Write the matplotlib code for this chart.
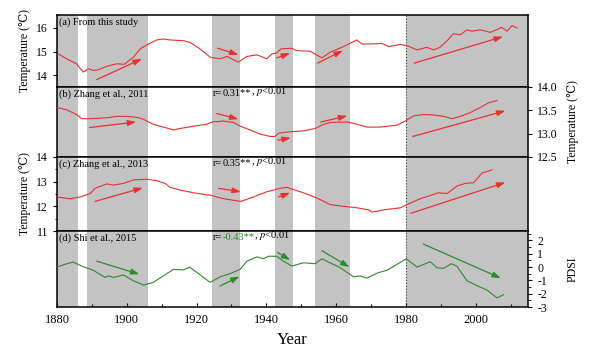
import matplotlib

matplotlib.use("Agg")
import matplotlib.pyplot as plt
from matplotlib.ticker import MultipleLocator

plt.rcParams["font.family"] = ["Liberation Serif", "DejaVu Serif"]
plt.rcParams["mathtext.fontset"] = "stix"
plt.rcParams["axes.unicode_minus"] = False

# shaded periods (years)
bands = [(1880, 1886), (1888.5, 1906), (1924.5, 1932.5), (1942.5, 1947.5),
         (1954, 1964), (1980, 2015)]

# (a) this study
a_year = [1880, 1882.8, 1885.6, 1887.5, 1889, 1890.4, 1891.7, 1894.2, 1897.1,
          1899.3, 1901.9, 1903.8, 1906.2, 1908.6, 1910.5, 1912.4, 1916.2,
          1918.1, 1921, 1923.9, 1926.7, 1928.7, 1932, 1934.4, 1937.3, 1940.1,
          1941.6, 1943, 1944.2, 1947.1, 1948.7, 1952.6, 1955.9, 1958.3,
          1962.1, 1963.6, 1965.9, 1967.4, 1970.7, 1973.1, 1975, 1978.4,
          1980.3, 1983.2, 1986, 1987.9, 1989.8, 1991.8, 1993.6, 1995.6,
          1997.5, 1998.9, 2001.3, 2004.2, 2007.5, 2009, 2010.4, 2011.8]
a_temp = [14.93, 14.69, 14.48, 14.13, 14.27, 14.2, 14.22, 14.37, 14.48,
          14.46, 14.76, 15.11, 15.32, 15.49, 15.53, 15.49, 15.46, 15.39,
          15.11, 14.76, 14.69, 14.79, 14.55, 14.79, 14.86, 14.69, 14.9,
          14.94, 15.11, 15.14, 15.04, 15.01, 14.73, 14.97, 15.21, 15.32,
          15.49, 15.32, 15.32, 15.35, 15.21, 15.3, 15.25, 15.07, 15.18,
          15.07, 15.18, 15.46, 15.75, 15.71, 15.92, 15.86, 15.92, 15.81,
          16.02, 15.86, 16.1, 16.0]

# (b) Zhang et al., 2011
b_year = [1880, 1882.8, 1885.6, 1887.1, 1890, 1894.3, 1897.1, 1900, 1902.9,
          1904.7, 1907.6, 1910.5, 1913.4, 1915.3, 1919.1, 1922.9, 1924.4,
          1927.7, 1930.6, 1932.5, 1935.3, 1938.2, 1941.1, 1942.5, 1943.5,
          1946.8, 1950.6, 1954, 1956.4, 1958.3, 1963.1, 1966, 1968.8,
          1972.6, 1977.4, 1979.8, 1982.2, 1985, 1987.9, 1990.8, 1993.2,
          1995.6, 1998.4, 2001.3, 2003.7, 2006.1]
b_temp = [13.56, 13.51, 13.41, 13.32, 13.32, 13.34, 13.37, 13.37, 13.35,
          13.31, 13.2, 13.14, 13.08, 13.11, 13.16, 13.2, 13.25, 13.27, 13.24,
          13.16, 13.08, 12.99, 12.94, 12.94, 13.01, 13.04, 13.06, 13.11, 13.2,
          13.24, 13.25, 13.2, 13.14, 13.14, 13.18, 13.27, 13.38, 13.41, 13.4,
          13.37, 13.32, 13.37, 13.45, 13.56, 13.66, 13.71]

# (c) Zhang et al., 2013
c_year = [1880, 1883.7, 1886.6, 1889.5, 1890.9, 1894.3, 1896.2, 1899, 1901.9,
          1905.7, 1908.6, 1911, 1912.4, 1915.3, 1919.1, 1923.9, 1927.7,
          1932.7, 1936.3, 1940.1, 1944, 1945.9, 1950.6, 1954.5, 1958.3,
          1962.1, 1966, 1969.3, 1970.3, 1973.6, 1978.4, 1980.3, 1984.1,
          1987.9, 1989.3, 1991.8, 1994.6, 1997, 1999.4, 2001.8, 2004.7]
c_temp = [12.38, 12.31, 12.38, 12.52, 12.73, 12.91, 12.86, 12.93, 13.07,
          13.1, 13.04, 12.93, 12.77, 12.66, 12.55, 12.45, 12.31, 12.2, 12.38,
          12.59, 12.73, 12.77, 12.55, 12.34, 12.07, 12.0, 11.94, 11.86,
          11.76, 11.86, 11.94, 12.07, 12.31, 12.48, 12.55, 12.52, 12.82,
          12.93, 12.96, 13.35, 13.48]

# (d) Shi et al., 2015 (PDSI)
d_year = [1880, 1882.8, 1884.7, 1887.1, 1890.4, 1893.8, 1894.7, 1896.2, 1899,
          1901.9, 1904.8, 1907.6, 1910.5, 1913.4, 1916.2, 1918, 1920.1,
          1923.9, 1926.7, 1929.6, 1932.5, 1934.4, 1937.3, 1939.2, 1940.6,
          1943, 1944.9, 1947.3, 1950.6, 1954, 1955.9, 1957.3, 1961.2, 1965,
          1966.9, 1968.8, 1972.1, 1974.6, 1980.1, 1983.2, 1987, 1988.9,
          1990.8, 1993, 1994.6, 1997.5, 2000.4, 2003.2, 2006.1, 2008]
d_pdsi = [0.0, 0.25, 0.37, 0.07, -0.24, -0.78, -0.66, -0.78, -0.59, -1.03,
          -1.35, -1.15, -0.66, -0.17, -0.22, 0.0, -0.41, -1.15, -0.74, -0.49,
          -0.17, 0.44, 0.76, 0.62, 0.81, 0.81, 0.44, 0.07, 0.32, 0.25, 0.62,
          0.44, -0.05, -0.74, -0.66, -0.83, -0.42, -0.24, 0.62, 0.0, 0.4,
          -0.05, -0.1, 0.25, 0.07, -1.03, -1.4, -1.72, -2.31, -2.07]

# trend arrows: (x0, y0, x1, y1)
a_arrows = [(1891.4, 13.81, 1904.3, 14.69), (1926, 15.14, 1932, 14.86),
            (1943, 14.73, 1946.8, 14.93), (1954.7, 14.51, 1961.9, 15.04),
            (1982.4, 14.51, 2007.8, 15.63)]
b_arrows = [(1889.3, 13.13, 1902.7, 13.25), (1925.8, 13.43, 1932, 13.31),
            (1943.3, 12.86, 1947, 12.91), (1955.6, 13.25, 1963.2, 13.38),
            (1982, 12.94, 2008.5, 13.49)]
c_arrows = [(1890.9, 12.2, 1904.6, 12.75), (1926.3, 12.73, 1932.7, 12.59),
            (1943.5, 12.38, 1946.8, 12.55), (1981.4, 11.72, 2008.5, 12.97)]
d_arrows = [(1891.4, 0.44, 1903.6, -0.54), (1926.7, -1.42, 1932.3, -0.71),
            (1943.2, 1.1, 1946.8, 0.52), (1955.9, 1.23, 1963.8, 0.0),
            (1985, 1.72, 2007.2, -0.83)]

RED = "#e8302c"
GREEN = "#2b8c2b"

fig = plt.figure(figsize=(5.9, 3.55), dpi=100)
gs = fig.add_gridspec(4, 1, left=0.0966, right=0.895, top=0.958, bottom=0.135,
                      hspace=0, height_ratios=[72, 70, 74, 76])
axes = [fig.add_subplot(gs[i]) for i in range(4)]

panels = [
    (a_year, a_temp, a_arrows, RED, (13.5, 16.55), "left"),
    (b_year, b_temp, b_arrows, RED, (12.5, 14.0), "right"),
    (c_year, c_temp, c_arrows, RED, (11, 14), "left"),
    (d_year, d_pdsi, d_arrows, GREEN, (-3, 2.7), "right"),
]

for ax, (xs, ys, arrows, col, ylim, side) in zip(axes, panels):
    for x0, x1 in bands:
        ax.axvspan(x0, x1, color="#c3c3c3", lw=0, zorder=0)
    ax.axvline(1980, color="#444444", ls=":", lw=0.8, zorder=1)
    ax.plot(xs, ys, color=col, lw=0.8, zorder=3)
    for x0, y0, x1, y1 in arrows:
        ax.annotate("", xy=(x1, y1), xytext=(x0, y0),
                    arrowprops=dict(arrowstyle="-|>,head_length=0.5,head_width=0.17",
                                    color=col, lw=0.9, shrinkA=0, shrinkB=0),
                    zorder=4)
    ax.set_xlim(1880, 2015)
    ax.set_ylim(*ylim)
    for s in ax.spines.values():
        s.set_linewidth(1.1)
    ax.yaxis.set_ticks_position(side)
    ax.yaxis.set_label_position(side)
    ax.tick_params(axis="y", direction="out", labelsize=8.5, length=3, width=0.8)
    ax.tick_params(axis="y", which="minor", direction="out", length=1.8, width=0.6)
    ax.tick_params(axis="x", which="both", bottom=False, top=False,
                   labelbottom=False)

axes[0].set_yticks([14, 15, 16])
axes[1].set_yticks([12.5, 13.0, 13.5, 14.0])
axes[1].set_yticklabels(["12.5", "13.0", "13.5", "14.0"])
axes[2].set_yticks([11, 12, 13, 14])
axes[2].yaxis.set_minor_locator(MultipleLocator(0.5))
axes[3].set_yticks([-3, -2, -1, 0, 1, 2])
axes[3].yaxis.set_minor_locator(MultipleLocator(0.5))

axd = axes[3]
axd.set_xticks(range(1880, 2001, 20))
axd.xaxis.set_minor_locator(MultipleLocator(10))
axd.tick_params(axis="x", which="both", bottom=True, labelbottom=True,
                direction="in", labelsize=9, length=3, width=0.8, pad=5)
axd.tick_params(axis="x", which="minor", length=2)
axd.set_xlabel("Year", fontsize=12, labelpad=4)

lab = dict(fontsize=8.5)
axes[0].set_ylabel("Temperature (℃)", labelpad=4, **lab)
axes[1].set_ylabel("Temperature (℃)", labelpad=7, **lab)
axes[2].set_ylabel("Temperature (℃)", labelpad=4, **lab)
axes[3].set_ylabel("PDSI", labelpad=14, **lab)

names = ["(a) From this study", "(b) Zhang et al., 2011",
         "(c) Zhang et al., 2013", "(d) Shi et al., 2015"]
for ax, name in zip(axes, names):
    ax.text(0.004, 0.97, name, transform=ax.transAxes, va="top", ha="left",
            fontsize=7.5, zorder=5)

r_vals = [None, "0.31**", "0.35**", "-0.43**"]
r_cols = [None, "black", "black", GREEN]
for ax, rv, rc in zip(axes, r_vals, r_cols):
    if rv is None:
        continue
    t1 = ax.text(0.331, 0.97, "r=", transform=ax.transAxes, va="top",
                 ha="left", fontsize=7.5, zorder=5)
    t2 = ax.annotate(rv, xy=(1, 0), xycoords=t1, va="bottom", ha="left",
                     fontsize=7.5, color=rc, zorder=5)
    ax.annotate(", $p$<0.01", xy=(1, 0), xycoords=t2, va="bottom", ha="left",
                fontsize=7.5, zorder=5)

fig.savefig("out.png", dpi=100)
